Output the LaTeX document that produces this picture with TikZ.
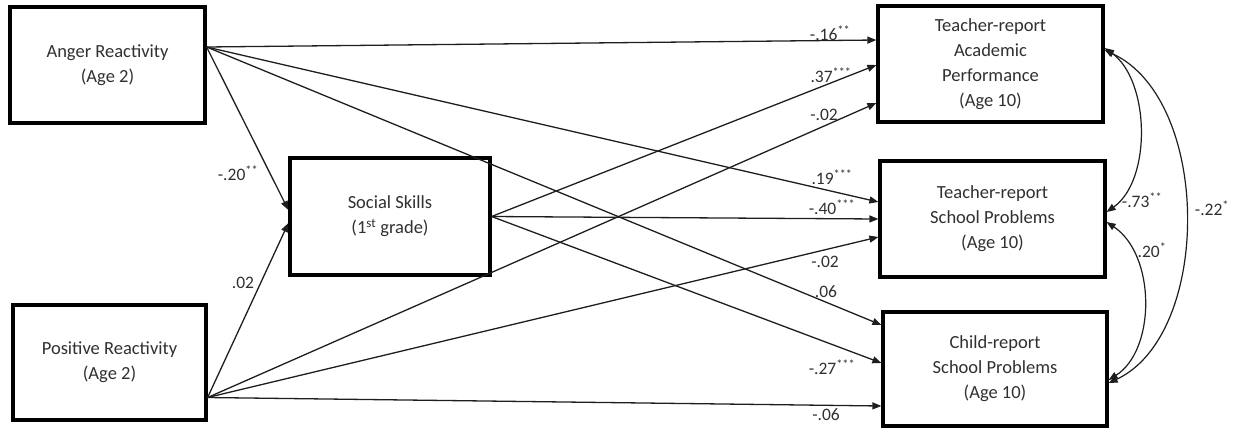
\documentclass[tikz,border=0pt]{standalone}
\usepackage{fontspec}
\setmainfont{Carlito}
\usetikzlibrary{arrows.meta,calc}
\definecolor{txt}{HTML}{303030}
\definecolor{ln}{HTML}{1E1E1E}
\tikzset{
  box/.style={draw=black, line width=3.2pt, fill=white, align=center, text=txt,
    font=\fontsize{18.5}{25}\selectfont, inner sep=0pt},
  path/.style={draw=ln, line width=1.3pt, -{Triangle[length=9pt,width=7pt]}},
  cov/.style={draw=ln, line width=1.2pt, {Triangle[length=9pt,width=7pt]}-{Triangle[length=9pt,width=7pt]}},
  lab/.style={text=txt, font=\fontsize{17.5}{18}\selectfont, inner sep=0pt}
}
\newcommand{\sig}[1]{\textsuperscript{#1}}
\begin{document}
\begin{tikzpicture}[x=1pt,y=-1pt]
\useasboundingbox (0,0) rectangle (1237,429);
% boxes
\node[box, minimum width=195pt, minimum height=116pt] (anger) at (107.5,65) {Anger Reactivity\\(Age 2)};
\node[box, minimum width=193pt, minimum height=115pt] (pos) at (109.5,362.5) {Positive Reactivity\\(Age 2)};
\node[box, minimum width=200pt, minimum height=117pt] (ss) at (390,216.5) {Social Skills\\(1\textsuperscript{st} grade)};
\node[box, minimum width=225pt, minimum height=116pt] (tap) at (990.5,64) {Teacher-report\\Academic\\Performance\\(Age 10)};
\node[box, minimum width=225pt, minimum height=116pt] (tsp) at (992.5,219) {Teacher-report\\School Problems\\(Age 10)};
\node[box, minimum width=224pt, minimum height=114pt] (csp) at (995,369) {Child-report\\School Problems\\(Age 10)};
% exit points
\coordinate (aO) at ([yshift=18pt]anger.east);
\coordinate (pO) at ([yshift=-35pt]pos.east);
% paths from anger
\draw[path] (aO) -- ([yshift=24pt]tap.west);
\draw[path] (aO) -- ([yshift=6.5pt]ss.west);
\draw[path] (aO) -- ([yshift=17pt]tsp.west);
\draw[path] (aO) -- ([yshift=44pt]csp.west);
% paths from positive
\draw[path] (pO) -- ([yshift=-6.5pt]ss.west);
\draw[path] (pO) -- ([yshift=-39pt]tap.west);
\draw[path] (pO) -- ([yshift=-18pt]tsp.west);
\draw[path] (pO) -- ([yshift=-37pt]csp.west);
% paths from social skills
\draw[path] (ss.east) -- ([yshift=-1pt]tap.west);
\draw[path] (ss.east) -- (tsp.west);
\draw[path] (ss.east) -- ([yshift=6pt]csp.west);
% covariances
\draw[cov] ([yshift=16pt]tap.east) .. controls (1150,80) and (1152,180) .. ([yshift=7pt]tsp.east);
\draw[cov] ([yshift=-3pt]tsp.east) .. controls (1156,255) and (1156,350) .. ([yshift=-11pt]csp.east);
\draw[cov] ([yshift=14pt]tap.east) .. controls (1212,100) and (1212,335) .. ([yshift=-14pt]csp.east);
% labels
\node[lab] (l1) at (830,33) {-.16\sig{**}};
\node[lab] (l2) at (831,75) {.37\sig{***}};
\node[lab] (l3) at (824,115) {-.02};
\node[lab] (l4) at (832,177) {.19\sig{***}};
\node[lab] (l5) at (832,207) {-.40\sig{***}};
\node[lab] (l6) at (825,262) {-.02};
\node[lab] (l7) at (826,292) {.06};
\node[lab] (l8) at (832,367) {-.27\sig{***}};
\node[lab] (l9) at (826,415) {-.06};
\node[lab] (l10) at (238,173) {-.20\sig{**}};
\node[lab] (l11) at (243,283) {.02};
\node[lab] (l12) at (1142,200) {-.73\sig{**}};
\node[lab] (l13) at (1152,250) {.20\sig{*}};
\node[lab] (l14) at (1212,208) {-.22\sig{*}};
\end{tikzpicture}
\end{document}
